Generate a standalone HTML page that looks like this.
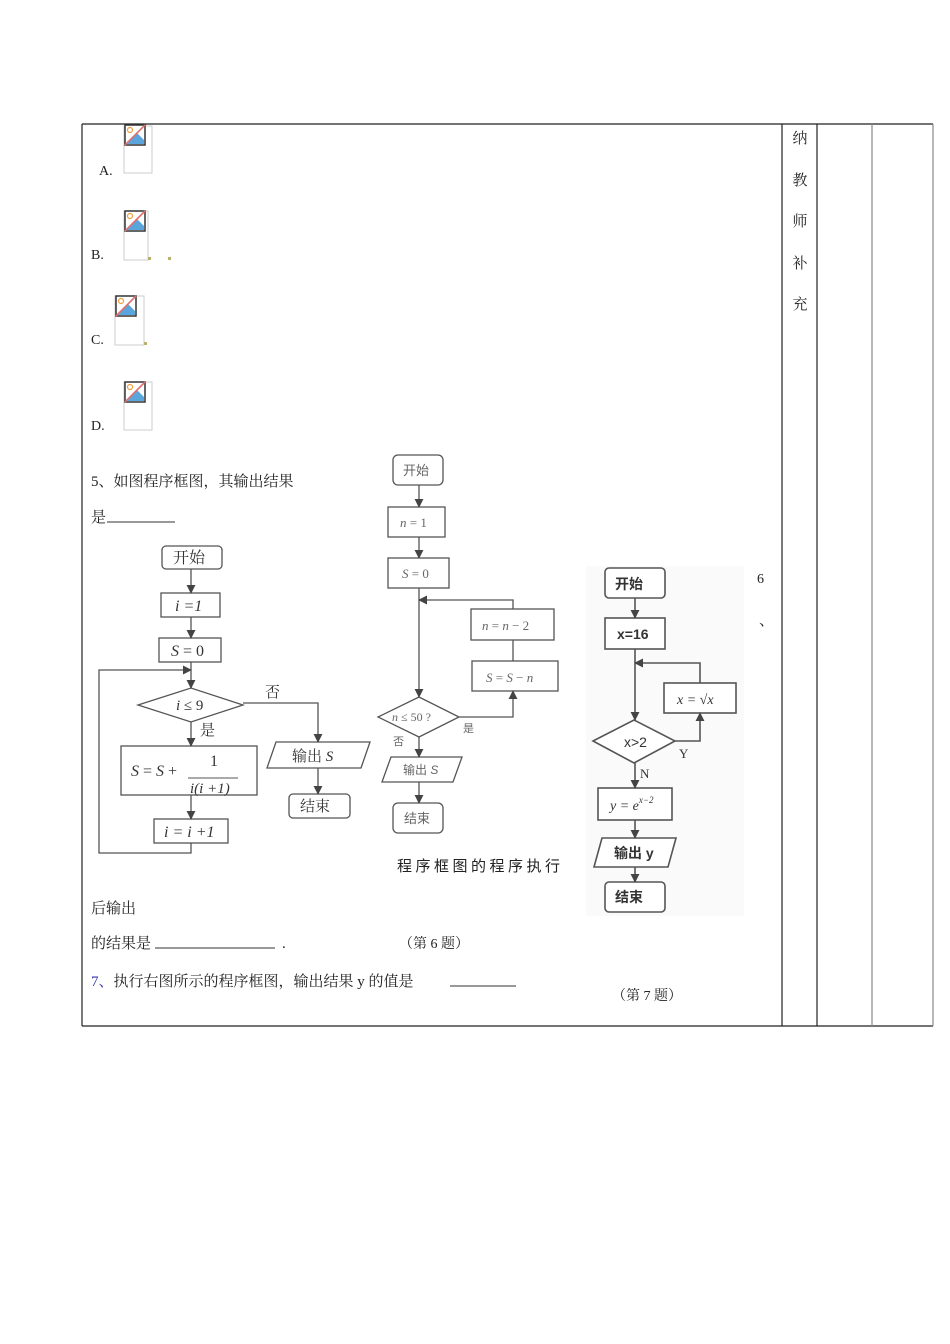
<!DOCTYPE html>
<html><head><meta charset="utf-8"><style>
html,body{margin:0;padding:0;background:#fff;width:950px;height:1344px;overflow:hidden}
svg{display:block}
text{font-family:"Liberation Serif","Noto Serif CJK SC","Noto Sans CJK SC",serif}
.s{font-family:"Liberation Sans","Noto Sans CJK SC",sans-serif}
</style></head><body>
<svg width="950" height="1344" viewBox="0 0 950 1344" xmlns="http://www.w3.org/2000/svg">
<defs>
<marker id="a" viewBox="0 0 10 10" refX="9" refY="5" markerWidth="9" markerHeight="9" markerUnits="userSpaceOnUse" orient="auto"><path d="M0,0L10,5L0,10z" fill="#444"/></marker>
<g id="ic"><rect x="0" y="0" width="20" height="20" fill="#fff" stroke="#333" stroke-width="1.5"/><path d="M2,19L12,8L19,15V19z" fill="#5aa6dc"/><circle cx="5" cy="5" r="2.5" fill="none" stroke="#f0a040" stroke-width="1.2"/><line x1="0" y1="20" x2="20" y2="0" stroke="#e07070" stroke-width="1.6"/></g>
</defs>
<!-- table -->
<g stroke="#222" stroke-width="1.2" fill="none">
<line x1="82" y1="124" x2="933" y2="124"/>
<line x1="82" y1="1026" x2="933" y2="1026"/>
<line x1="82" y1="124" x2="82" y2="1026"/>
<line x1="782" y1="124" x2="782" y2="1026"/>
<line x1="817" y1="124" x2="817" y2="1026"/>
<line x1="872" y1="124" x2="872" y2="1026" stroke="#888"/>
<line x1="933" y1="124" x2="933" y2="1026" stroke="#888"/>
</g>
<g font-size="15" fill="#222" text-anchor="middle">
<text x="800" y="143">纳</text><text x="800" y="185">教</text><text x="800" y="226">师</text><text x="800" y="268">补</text><text x="800" y="309">充</text>
</g>
<!-- options -->
<g font-size="14" fill="#222">
<text x="99" y="175">A.</text><text x="91" y="259">B.</text><text x="91" y="344">C.</text><text x="91" y="430">D.</text>
</g>
<g fill="none" stroke="#ccc"><rect x="124" y="126" width="28" height="47"/><rect x="124" y="211" width="24" height="49"/><rect x="115" y="296" width="29" height="49"/><rect x="124" y="382" width="28" height="48"/></g>
<use href="#ic" x="125" y="125"/><use href="#ic" x="125" y="211"/><use href="#ic" x="116" y="296"/><use href="#ic" x="125" y="382"/>
<rect x="148" y="257" width="3" height="3" fill="#b8b070"/><rect x="168" y="257" width="3" height="3" fill="#b8b070"/><rect x="144" y="342" width="3" height="3" fill="#b8b070"/>
<!-- question text -->
<g font-size="15" fill="#222">
<text x="91" y="486">5、如图程序框图，其输出结果</text>
<text x="91" y="522">是</text>
<line x1="107" y1="522" x2="175" y2="522" stroke="#333"/>
<text x="91" y="913">后输出</text>
<text x="91" y="948">的结果是</text>
<line x1="155" y1="948" x2="275" y2="948" stroke="#333"/>
<text x="282" y="948">.</text>
<text x="399" y="948" font-size="14">（第 6 题）</text>
<text x="91" y="986"><tspan fill="#3333aa">7、</tspan>执行右图所示的程序框图，输出结果 y 的值是</text>
<line x1="450" y1="986" x2="516" y2="986" stroke="#333"/>
<text x="612" y="1000" font-size="14">（第 7 题）</text>
<text x="397" y="871" class="s" letter-spacing="3.5">程序框图的程序执行</text>
<text x="757" y="583" font-size="14">6</text>
<text x="759" y="625">、</text>
</g>
<!-- flowchart 1 -->
<g stroke="#555" stroke-width="1.3" fill="none">
<rect x="162" y="546" width="60" height="23" rx="4"/>
<rect x="161" y="593" width="59" height="24"/>
<rect x="159" y="638" width="62" height="24"/>
<polygon points="138,705 191,688 243,705 191,722"/>
<rect x="121" y="746" width="136" height="49"/>
<polygon points="276,742 370,742 361,768 267,768"/>
<rect x="289" y="794" width="61" height="24" rx="4"/>
<rect x="154" y="819" width="74" height="24"/>
<line x1="191" y1="569" x2="191" y2="593" marker-end="url(#a)"/>
<line x1="191" y1="617" x2="191" y2="638" marker-end="url(#a)"/>
<line x1="191" y1="662" x2="191" y2="688" marker-end="url(#a)"/>
<line x1="191" y1="722" x2="191" y2="746" marker-end="url(#a)"/>
<line x1="191" y1="795" x2="191" y2="819" marker-end="url(#a)"/>
<polyline points="191,843 191,853 99,853 99,670 191,670" marker-end="url(#a)"/>
<polyline points="243,703 318,703 318,742" marker-end="url(#a)"/>
<line x1="318" y1="768" x2="318" y2="794" marker-end="url(#a)"/>
<line x1="188" y1="778" x2="238" y2="778" stroke-width="1"/>
</g>
<g font-size="16" fill="#333" class="s">
<text x="173" y="563">开始</text>
<text x="175" y="611" font-style="italic" font-family="Liberation Serif">i =1</text>
<text x="171" y="656" font-family="Liberation Serif"><tspan font-style="italic">S</tspan> = 0</text>
<text x="176" y="710" font-family="Liberation Serif" font-size="15"><tspan font-style="italic">i</tspan> ≤ 9</text>
<text x="200" y="735" font-size="15">是</text>
<text x="265" y="697" font-size="15">否</text>
<text x="131" y="776" font-family="Liberation Serif"><tspan font-style="italic">S</tspan> = <tspan font-style="italic">S</tspan> +</text>
<text x="210" y="766" font-family="Liberation Serif">1</text>
<text x="190" y="793" font-family="Liberation Serif" font-style="italic" font-size="15">i(i +1)</text>
<text x="292" y="761" font-size="15">输出 <tspan font-style="italic" font-family="Liberation Serif">S</tspan></text>
<text x="300" y="811" font-size="15">结束</text>
<text x="164" y="837" font-family="Liberation Serif" font-style="italic">i = i +1</text>
</g>
<!-- flowchart 2 -->
<g stroke="#555" stroke-width="1.3" fill="none">
<rect x="393" y="455" width="50" height="30" rx="5"/>
<rect x="388" y="507" width="57" height="30"/>
<rect x="388" y="558" width="61" height="30"/>
<rect x="471" y="609" width="83" height="31"/>
<rect x="472" y="661" width="86" height="30"/>
<polygon points="378,717 419,697 459,717 419,737"/>
<polygon points="391,757 462,757 453,782 382,782"/>
<rect x="393" y="803" width="50" height="30" rx="5"/>
<line x1="419" y1="485" x2="419" y2="507" marker-end="url(#a)"/>
<line x1="419" y1="537" x2="419" y2="558" marker-end="url(#a)"/>
<line x1="419" y1="588" x2="419" y2="697" marker-end="url(#a)"/>
<polyline points="513,609 513,600 419,600" marker-end="url(#a)"/>
<line x1="513" y1="640" x2="513" y2="661"/>
<polyline points="459,717 513,717 513,691" marker-end="url(#a)"/>
<line x1="419" y1="737" x2="419" y2="757" marker-end="url(#a)"/>
<line x1="419" y1="782" x2="419" y2="803" marker-end="url(#a)"/>
</g>
<g font-size="13" fill="#666" font-family="Liberation Serif">
<text x="403" y="475" class="s">开始</text>
<text x="400" y="527"><tspan font-style="italic">n</tspan> = 1</text>
<text x="402" y="578"><tspan font-style="italic">S</tspan> = 0</text>
<text x="482" y="630"><tspan font-style="italic">n</tspan> = <tspan font-style="italic">n</tspan> − 2</text>
<text x="486" y="682"><tspan font-style="italic">S</tspan> = <tspan font-style="italic">S</tspan> − <tspan font-style="italic">n</tspan></text>
<text x="392" y="721" font-size="12"><tspan font-style="italic">n</tspan> ≤ 50 ?</text>
<text x="463" y="732" class="s" font-size="11">是</text>
<text x="393" y="745" class="s" font-size="11">否</text>
<text x="403" y="774" class="s" font-size="12">输出 <tspan font-style="italic">S</tspan></text>
<text x="404" y="823" class="s">结束</text>
</g>
<!-- flowchart 3 -->
<rect x="586" y="566" width="158" height="350" fill="#fafafa"/>
<g stroke="#555" stroke-width="1.6" fill="none">
<rect x="605" y="568" width="60" height="30" rx="4" fill="#fff"/>
<rect x="605" y="618" width="60" height="31" fill="#fff"/>
<rect x="664" y="683" width="72" height="30" fill="#fff"/>
<polygon points="593,741 634,720 675,741 634,763" fill="#fff"/>
<rect x="598" y="788" width="74" height="32" fill="#fff"/>
<polygon points="602,838 676,838 668,867 594,867" fill="#fff"/>
<rect x="605" y="882" width="60" height="30" rx="4" fill="#fff"/>
<line x1="635" y1="598" x2="635" y2="618" marker-end="url(#a)"/>
<line x1="635" y1="649" x2="635" y2="720" marker-end="url(#a)"/>
<polyline points="700,683 700,663 635,663" marker-end="url(#a)"/>
<polyline points="675,741 700,741 700,713" marker-end="url(#a)"/>
<line x1="635" y1="763" x2="635" y2="788" marker-end="url(#a)"/>
<line x1="635" y1="820" x2="635" y2="838" marker-end="url(#a)"/>
<line x1="635" y1="867" x2="635" y2="882" marker-end="url(#a)"/>
</g>
<g font-size="14" fill="#333" font-family="Liberation Serif">
<text x="615" y="589" class="s" font-weight="bold">开始</text>
<text x="617" y="639" class="s" font-weight="bold">x=16</text>
<text x="677" y="704" font-style="italic">x = √x</text>
<text x="624" y="747" class="s">x&gt;2</text>
<text x="679" y="758" font-size="13">Y</text>
<text x="640" y="778" font-size="13">N</text>
<text x="610" y="810" font-style="italic">y = e<tspan font-size="9" dy="-7">x−2</tspan></text>
<text x="614" y="858" class="s" font-weight="bold">输出 y</text>
<text x="615" y="902" class="s" font-weight="bold">结束</text>
</g>
</svg>
</body></html>
